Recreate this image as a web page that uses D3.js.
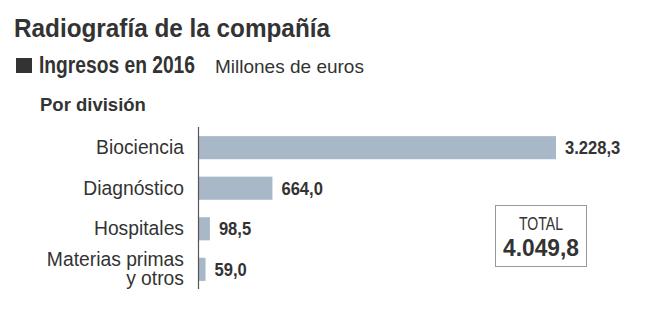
<!DOCTYPE html>
<html>
<head>
<meta charset="utf-8">
<script src="https://cdnjs.cloudflare.com/ajax/libs/d3/7.8.5/d3.min.js"></script>
<style>
  body { margin: 0; background: #fff; }
  svg { display: block; }
</style>
</head>
<body>
<script>
// datos
var categorias = ["Biociencia", "Diagnóstico", "Hospitales", "Materias primas|y otros"];
var ingresos = [3228.3, 664.0, 98.5, 59.0];
var etiquetas = ["3.228,3", "664,0", "98,5", "59,0"];
var totalTexto = "4.049,8";

var width = 664, height = 325;
var font = "'Liberation Sans', Arial, Helvetica, sans-serif";
var ink = "#333";

var svg = d3.select("body").append("svg")
    .attr("width", width).attr("height", height);

// comprime el texto horizontalmente hasta el ancho dado
function squeeze(t, w) {
    t.attr("textLength", w).attr("lengthAdjust", "spacingAndGlyphs");
    return t;
}

// titulos
squeeze(svg.append("text")
    .attr("x", 14).attr("y", 37)
    .style("font-family", font).style("font-weight", "bold").style("font-size", "26.5px")
    .attr("fill", ink)
    .text("Radiografía de la compañía"), 316);

svg.append("rect")
    .attr("x", 16).attr("y", 58).attr("width", 16).attr("height", 15)
    .attr("fill", ink);

squeeze(svg.append("text")
    .attr("x", 39).attr("y", 73)
    .style("font-family", font).style("font-weight", "bold").style("font-size", "23.5px")
    .attr("fill", ink)
    .text("Ingresos en 2016"), 156);

svg.append("text")
    .attr("x", 215).attr("y", 73)
    .style("font-family", font).style("font-size", "19px")
    .attr("fill", ink)
    .text("Millones de euros");

svg.append("text")
    .attr("x", 40).attr("y", 111)
    .style("font-family", font).style("font-weight", "bold").style("font-size", "18.5px")
    .attr("fill", ink)
    .text("Por división");

// escalas
var x = d3.scaleLinear()
    .domain([0, d3.max(ingresos)])
    .range([199, 556]);

var y = d3.scaleBand()
    .domain(categorias)
    .range([128, 289])
    .paddingInner(0.43)
    .paddingOuter(0.2);

var chartGroup = svg.append("g");

chartGroup.selectAll("rect.bar").data(ingresos).enter()
    .append("rect")
    .attr("class", "bar")
    .attr("x", x(0))
    .attr("y", function(d, i) { return y(categorias[i]); })
    .attr("width", function(d) { return x(d) - x(0); })
    .attr("height", y.bandwidth())
    .attr("fill", "#a8b8c9");

// eje vertical
var yAxis = d3.axisLeft(y).tickSize(0).tickFormat("");
chartGroup.append("g")
    .attr("transform", "translate(" + (x(0) - 0.5) + ",0)")
    .call(yAxis)
    .call(function(g) {
        g.select(".domain").attr("d", "M0,127V289").attr("stroke", "#555").attr("stroke-width", 1.2);
    });

// nombres de division
chartGroup.selectAll("text.cat").data(categorias).enter()
    .append("text")
    .attr("class", "cat")
    .attr("text-anchor", "end")
    .style("font-family", font).style("font-size", "19.3px")
    .attr("fill", ink)
    .each(function(d) {
        var lines = d.split("|");
        var cy = y(d) + y.bandwidth() / 2;
        var t = d3.select(this);
        var lh = 19;
        var y0 = cy - (lines.length - 1) * lh / 2 + 6.5;
        lines.forEach(function(l, k) {
            t.append("tspan").attr("x", 184).attr("y", y0 + k * lh).text(l);
        });
    });

// valores
chartGroup.selectAll("text.val").data(ingresos).enter()
    .append("text")
    .attr("class", "val")
    .attr("x", function(d) { return x(d) + 9; })
    .attr("y", function(d, i) { return y(categorias[i]) + y.bandwidth() / 2 + 6.5; })
    .style("font-family", font).style("font-weight", "bold").style("font-size", "18px")
    .attr("fill", ink)
    .text(function(d, i) { return etiquetas[i]; })
    .each(function() {
        var t = d3.select(this);
        squeeze(t, this.getComputedTextLength() * 0.92);
    });

// total
var tot = svg.append("g");
tot.append("rect")
    .attr("x", 495.5).attr("y", 205.5).attr("width", 91).attr("height", 61)
    .attr("fill", "#fff").attr("stroke", "#999").attr("stroke-width", 1);
squeeze(tot.append("text")
    .attr("x", 519).attr("y", 230)
    .style("font-family", font).style("font-size", "18.5px")
    .attr("fill", ink)
    .text("TOTAL"), 44);
squeeze(tot.append("text")
    .attr("x", 503).attr("y", 256)
    .style("font-family", font).style("font-weight", "bold").style("font-size", "23px")
    .attr("fill", ink)
    .text(totalTexto), 76);
</script>
</body>
</html>
